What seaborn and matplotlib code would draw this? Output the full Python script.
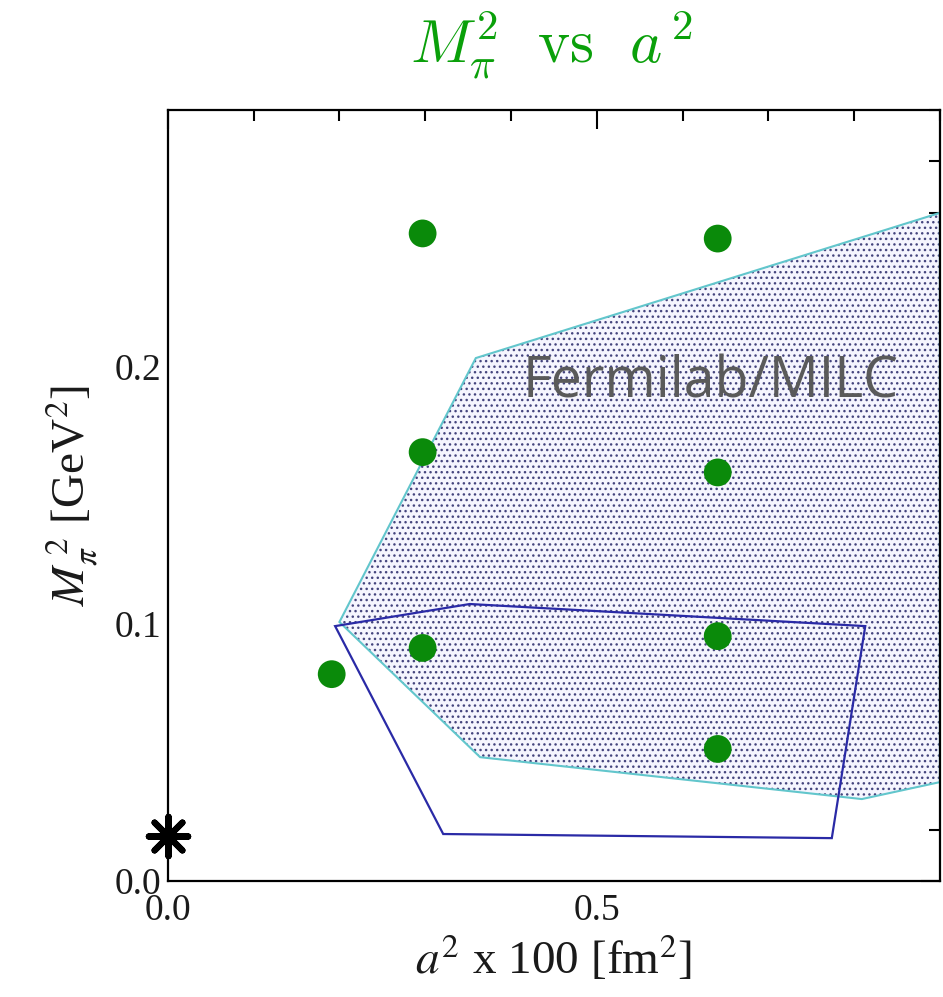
import matplotlib
matplotlib.use("Agg")
import matplotlib.pyplot as plt
from matplotlib.ticker import MultipleLocator, FixedLocator, FormatStrFormatter
import seaborn as sns
import pandas as pd

# Ensemble points: lattice spacing squared (x100 fm^2) and pion mass squared (GeV^2)
a2_points = [0.191, 0.297, 0.297, 0.297, 0.641, 0.641, 0.641, 0.641]
mpi2_points = [0.0805, 0.0907, 0.1669, 0.2520, 0.0514, 0.0953, 0.1590, 0.2500]

# Physical point
phys_a2 = [0.0]
phys_mpi2 = [0.0175]

# Fermilab/MILC coverage region (hatched)
fnal_a2 = [0.200, 0.359, 0.900, 0.900, 0.809, 0.364]
fnal_mpi2 = [0.1008, 0.2035, 0.2600, 0.0385, 0.0319, 0.0482]

# Second coverage region (outline only)
box_a2 = [0.195, 0.352, 0.813, 0.774, 0.321]
box_mpi2 = [0.0992, 0.1078, 0.0992, 0.0167, 0.0183]

title_text = r"$M_\pi^2\ \ \mathrm{vs}\ \ a^{\,2}$"
xlabel_text = r"$a^{2}$ x 100 [fm$^{2}$]"
ylabel_text = r"$M_{\pi}^{\;2}$ [GeV$^{2}$]"
region_label = "Fermilab/MILC"

sns.set_theme(style="white")
plt.rcParams["font.family"] = ["Liberation Serif", "DejaVu Serif"]
plt.rcParams["hatch.linewidth"] = 1.0

fig = plt.figure(figsize=(9.43, 9.97), dpi=100)
ax = fig.add_axes([0.178, 0.1163, 0.8187, 0.7733])

# hatched region: dotted fill, then cyan outline
ax.fill(fnal_a2, fnal_mpi2, facecolor="#f5f5fe", edgecolor="#45457e",
        hatch="...", linewidth=0, zorder=1)
ax.fill(fnal_a2, fnal_mpi2, facecolor="none", edgecolor="#62c6cc",
        linewidth=1.5, zorder=2)
ax.fill(box_a2, box_mpi2, facecolor="none", edgecolor="#2a2aa6",
        linewidth=1.6, zorder=3)

pts = pd.DataFrame({"a2": a2_points, "mpi2": mpi2_points})
sns.scatterplot(data=pts, x="a2", y="mpi2", ax=ax, s=400, color="#0a8a0a",
                edgecolor="none", zorder=5, legend=False)

phys = pd.DataFrame({"a2": phys_a2, "mpi2": phys_mpi2})
sns.scatterplot(data=phys, x="a2", y="mpi2", ax=ax, marker=(8, 2, 0), s=800,
                color="black", linewidth=4.5, zorder=6, clip_on=False,
                legend=False)

ax.text(0.414, 0.188, region_label, fontsize=40, color="#5a5a5a",
        family="Open Sans", ha="left", va="baseline", zorder=7)

ax.set_xlim(0, 0.9)
ax.set_ylim(0, 0.3)
ax.xaxis.set_major_locator(FixedLocator([0.0, 0.5]))
ax.xaxis.set_minor_locator(MultipleLocator(0.1))
ax.yaxis.set_major_locator(FixedLocator([0.0, 0.1, 0.2]))
ax.yaxis.set_minor_locator(MultipleLocator(0.02))
ax.xaxis.set_major_formatter(FormatStrFormatter("%.1f"))
ax.yaxis.set_major_formatter(FormatStrFormatter("%.1f"))

ax.tick_params(which="both", direction="in", top=True, right=True,
               width=1.5, color="black", labelsize=27, labelcolor="#1a1a1a")
ax.tick_params(which="major", length=14)
ax.tick_params(which="minor", length=8)
ax.tick_params(axis="x", pad=9)
ax.tick_params(axis="y", pad=5)

for sp in ax.spines.values():
    sp.set_color("black")
    sp.set_linewidth(1.6)

ax.set_xlabel(xlabel_text, fontsize=34, color="#1a1a1a", labelpad=4,
              math_fontfamily="stix")
ax.set_ylabel(ylabel_text, fontsize=34, color="#1a1a1a", labelpad=10,
              math_fontfamily="stix")

fig.text(0.585, 0.955, title_text, fontsize=44, color="#0aa00a",
         ha="center", va="center", math_fontfamily="cm")

fig.savefig("out.png", dpi=100, facecolor="white")
